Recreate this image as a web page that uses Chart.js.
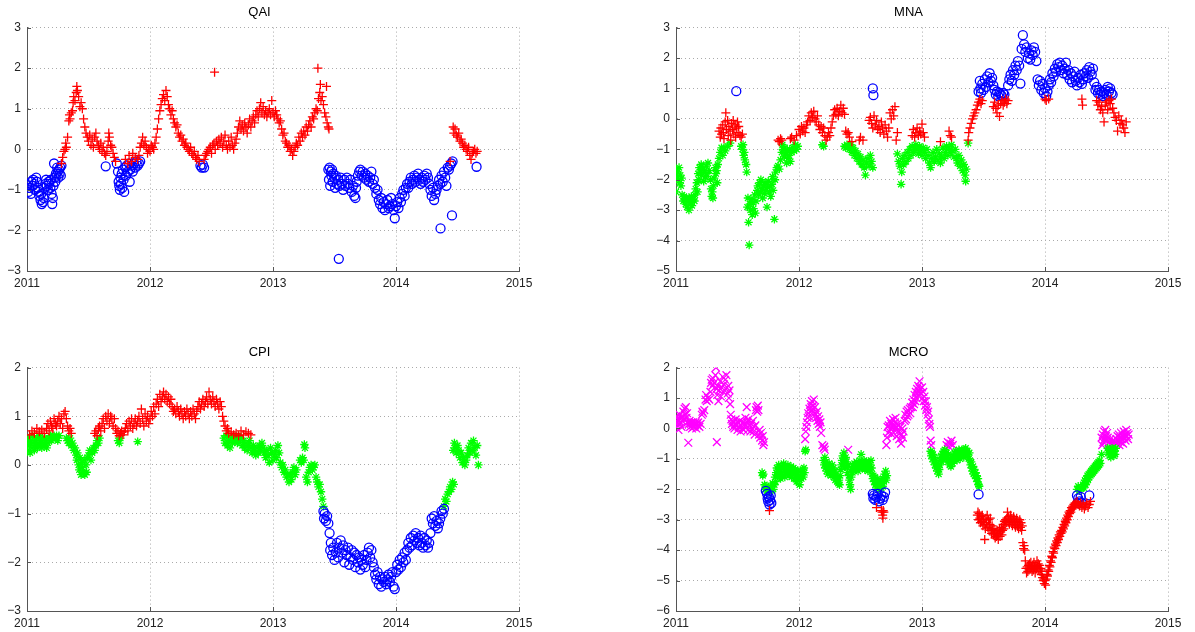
<!DOCTYPE html>
<html>
<head>
<meta charset="utf-8">
<script src="https://cdn.jsdelivr.net/npm/chart.js@4/dist/chart.umd.min.js"></script>
<style>
  body { margin: 0; background: #fff; width: 1195px; height: 632px; overflow: hidden; }
  canvas { position: absolute; }
</style>
</head>
<body>
<canvas id="qai" width="545" height="300" style="left:0;top:0"></canvas>
<canvas id="mna" width="545" height="300" style="left:649px;top:0"></canvas>
<canvas id="cpi" width="545" height="300" style="left:0;top:340px"></canvas>
<canvas id="mcro" width="545" height="300" style="left:649px;top:340px"></canvas>
<script>
// x = decimal year, y = value
const yearTicks = [2011, 2012, 2013, 2014, 2015];

// ---- QAI ----
const qaiPlus = [
  [2011.28,-0.35],[2011.29,-0.20],[2011.30,-0.05],[2011.31,0.00],[2011.315,0.15],[2011.32,0.05],[2011.33,0.30],[2011.34,0.70],[2011.345,0.85],[2011.35,0.75],[2011.36,0.90],[2011.37,0.95],[2011.375,1.15],[2011.38,1.30],[2011.39,1.20],[2011.40,1.40],[2011.405,1.55],[2011.41,1.45],[2011.42,1.30],[2011.43,1.05],[2011.44,1.15],[2011.45,1.00],[2011.46,0.75],[2011.47,0.55],[2011.48,0.40],[2011.49,0.30],[2011.50,0.20],[2011.51,0.35],[2011.52,0.10],[2011.53,0.25],[2011.54,0.05],[2011.55,0.30],[2011.56,0.40],[2011.57,0.20],[2011.58,0.10],[2011.59,0.00],[2011.60,0.15],[2011.61,-0.05],[2011.62,0.05],[2011.63,-0.10],[2011.64,-0.15],[2011.65,-0.05],[2011.66,0.20],[2011.665,0.40],[2011.67,0.30],[2011.68,0.10],[2011.69,0.05],[2011.70,-0.10],[2011.71,-0.20],[2011.72,-0.30],
  [2011.80,-0.25],[2011.82,-0.35],[2011.83,-0.15],[2011.85,-0.30],[2011.86,-0.10],[2011.88,-0.20],[2011.90,-0.25],[2011.91,-0.15],[2011.92,0.05],[2011.93,0.15],[2011.94,0.30],[2011.95,0.10],[2011.96,0.20],[2011.97,0.05],[2011.98,-0.10],[2011.99,0.00],[2012.00,-0.05],[2012.01,0.10],[2012.02,0.05],[2012.03,0.00],[2012.04,0.15],[2012.05,0.30],[2012.06,0.50],[2012.07,0.75],[2012.08,0.95],[2012.09,1.10],[2012.10,1.25],[2012.11,1.35],[2012.12,1.20],[2012.13,1.45],[2012.14,1.30],[2012.15,1.10],[2012.16,1.00],[2012.17,0.85],[2012.18,0.95],[2012.19,0.75],[2012.20,0.65],[2012.21,0.55],[2012.22,0.60],[2012.23,0.40],[2012.24,0.30],[2012.25,0.35],[2012.26,0.20],[2012.27,0.25],[2012.28,0.10],[2012.29,0.15],[2012.30,0.05],[2012.31,0.00],[2012.32,-0.05],[2012.33,0.05],[2012.34,-0.10],[2012.35,-0.15],[2012.36,-0.05],[2012.37,-0.20],[2012.38,-0.25],[2012.39,-0.15],[2012.40,-0.30],
  [2012.44,-0.25],[2012.45,-0.15],[2012.46,-0.10],[2012.47,-0.05],[2012.48,0.00],[2012.49,0.05],[2012.50,-0.10],[2012.51,0.10],[2012.52,0.15],[2012.525,1.90],[2012.53,0.00],[2012.54,0.20],[2012.55,0.10],[2012.56,0.25],[2012.57,0.15],[2012.58,0.30],[2012.59,0.05],[2012.60,0.20],[2012.61,0.35],[2012.62,0.10],[2012.63,0.00],[2012.64,0.20],[2012.65,0.05],[2012.66,0.30],[2012.67,0.10],[2012.68,0.00],[2012.69,0.15],[2012.70,0.25],[2012.71,0.40],[2012.72,0.55],[2012.73,0.70],[2012.74,0.50],[2012.75,0.60],[2012.76,0.45],[2012.77,0.65],[2012.78,0.55],[2012.79,0.40],[2012.80,0.60],[2012.81,0.75],[2012.82,0.55],[2012.83,0.70],[2012.84,0.80],[2012.85,0.65],[2012.86,0.85],[2012.87,0.95],[2012.88,0.80],[2012.89,1.00],[2012.90,1.15],[2012.91,0.90],[2012.92,1.05],[2012.93,0.85],[2012.94,0.95],[2012.95,0.80],[2012.96,0.90],[2012.97,1.00],[2012.98,0.85],[2012.99,1.20],
  [2013.00,0.90],[2013.01,0.80],[2013.02,0.95],[2013.03,0.85],[2013.04,0.75],[2013.05,0.65],[2013.06,0.70],[2013.07,0.50],[2013.08,0.35],[2013.09,0.40],[2013.10,0.20],[2013.11,0.15],[2013.12,0.05],[2013.13,0.10],[2013.14,-0.05],[2013.15,0.00],[2013.16,-0.15],[2013.17,-0.05],[2013.18,0.05],[2013.19,0.15],[2013.20,0.10],[2013.21,0.30],[2013.22,0.20],[2013.23,0.40],[2013.24,0.30],[2013.25,0.45],[2013.26,0.35],[2013.27,0.55],[2013.28,0.45],[2013.29,0.60],[2013.30,0.70],[2013.31,0.55],[2013.32,0.80],[2013.33,0.75],[2013.34,0.90],[2013.35,1.00],[2013.36,0.95],[2013.365,2.00],[2013.37,1.25],[2013.38,1.40],[2013.385,1.60],[2013.39,1.20],[2013.40,1.30],[2013.41,1.10],[2013.42,0.90],[2013.43,0.80],[2013.435,1.55],[2013.44,0.65],[2013.45,0.55],[2013.455,0.50],
  [2014.44,-0.30],[2014.465,0.55],[2014.47,0.40],[2014.48,0.50],[2014.49,0.35],[2014.50,0.30],[2014.51,0.40],[2014.52,0.20],[2014.53,0.25],[2014.54,0.15],[2014.55,0.05],[2014.56,0.10],[2014.57,0.00],[2014.58,-0.05],[2014.59,0.05],[2014.60,-0.15],[2014.61,-0.25],[2014.62,-0.10],[2014.63,-0.05],[2014.64,0.00],[2014.65,-0.10],[2014.66,-0.05]
];
const qaiCircle = [
  [2011.00,-0.88],[2011.01,-1.05],[2011.02,-0.95],[2011.03,-1.10],[2011.035,-0.80],[2011.045,-0.90],[2011.05,-0.75],[2011.06,-0.85],[2011.065,-1.00],[2011.075,-0.70],[2011.08,-0.80],[2011.09,-0.95],[2011.095,-1.05],[2011.10,-1.15],[2011.11,-1.25],[2011.115,-1.10],[2011.12,-1.35],[2011.13,-1.30],[2011.135,-1.20],[2011.14,-0.95],[2011.15,-0.85],[2011.155,-0.75],[2011.16,-0.90],[2011.17,-1.00],[2011.175,-0.80],[2011.18,-0.85],[2011.19,-0.95],[2011.195,-0.75],[2011.20,-1.10],[2011.205,-1.35],[2011.21,-1.20],[2011.215,-0.90],[2011.22,-0.35],[2011.225,-0.70],[2011.23,-0.80],[2011.235,-0.60],[2011.24,-0.65],[2011.245,-0.45],[2011.25,-0.55],[2011.255,-0.70],[2011.26,-0.50],[2011.265,-0.60],[2011.27,-0.45],[2011.275,-0.65],[2011.28,-0.40],
  [2011.64,-0.42],[2011.73,-0.35],[2011.74,-0.55],[2011.745,-0.80],[2011.75,-0.90],[2011.755,-1.00],[2011.76,-0.70],[2011.765,-0.85],[2011.77,-0.60],[2011.775,-0.95],[2011.78,-0.50],[2011.785,-0.75],[2011.79,-1.05],[2011.80,-0.45],[2011.805,-0.65],[2011.81,-0.40],[2011.82,-0.55],[2011.83,-0.35],[2011.835,-0.80],[2011.84,-0.50],[2011.85,-0.40],[2011.86,-0.55],[2011.87,-0.35],[2011.88,-0.45],[2011.89,-0.30],[2011.90,-0.40],[2011.91,-0.35],[2011.92,-0.30],
  [2012.41,-0.40],[2012.42,-0.45],[2012.43,-0.38],[2012.44,-0.45],
  [2013.45,-0.50],[2013.455,-0.75],[2013.46,-0.45],[2013.465,-0.90],[2013.47,-0.55],[2013.475,-0.65],[2013.48,-0.50],[2013.485,-0.80],[2013.49,-0.60],[2013.50,-0.70],[2013.505,-0.95],[2013.51,-0.65],[2013.52,-0.85],[2013.53,-0.75],[2013.535,-2.70],[2013.54,-0.90],[2013.55,-0.70],[2013.56,-0.85],[2013.57,-1.00],[2013.58,-0.75],[2013.59,-0.90],[2013.60,-0.70],[2013.61,-0.85],[2013.62,-0.95],[2013.63,-0.75],[2013.64,-1.05],[2013.65,-0.90],[2013.66,-1.15],[2013.67,-1.20],[2013.675,-0.95],[2013.68,-0.80],[2013.69,-0.65],[2013.70,-0.55],[2013.71,-0.50],[2013.72,-0.65],[2013.73,-0.55],[2013.74,-0.70],[2013.75,-0.60],[2013.76,-0.75],[2013.77,-0.65],[2013.78,-0.80],[2013.79,-0.70],[2013.80,-0.55],[2013.81,-0.85],[2013.82,-0.75],[2013.83,-0.95],[2013.84,-1.10],[2013.85,-1.00],[2013.86,-1.25],[2013.87,-1.35],[2013.88,-1.20],[2013.89,-1.45],[2013.90,-1.30],[2013.91,-1.50],[2013.92,-1.35],[2013.93,-1.25],[2013.94,-1.45],[2013.95,-1.40],[2013.96,-1.20],[2013.97,-1.35],[2013.98,-1.50],[2013.99,-1.70],
  [2014.00,-1.40],[2014.01,-1.30],[2014.02,-1.45],[2014.03,-1.20],[2014.04,-1.30],[2014.05,-1.10],[2014.06,-1.00],[2014.07,-1.15],[2014.08,-0.95],[2014.09,-0.85],[2014.10,-0.95],[2014.11,-0.80],[2014.12,-0.70],[2014.13,-0.85],[2014.14,-0.75],[2014.15,-0.65],[2014.16,-0.80],[2014.17,-0.70],[2014.18,-0.60],[2014.19,-0.75],[2014.20,-0.85],[2014.21,-0.70],[2014.22,-0.80],[2014.23,-0.65],[2014.24,-0.75],[2014.25,-0.60],[2014.26,-0.70],[2014.27,-0.85],[2014.28,-1.00],[2014.29,-1.15],[2014.30,-0.95],[2014.31,-1.25],[2014.32,-1.10],[2014.33,-1.00],[2014.34,-0.90],[2014.35,-0.75],[2014.36,-0.85],[2014.362,-1.95],[2014.37,-0.65],[2014.38,-0.80],[2014.39,-0.55],[2014.40,-0.70],[2014.41,-0.90],[2014.42,-0.45],[2014.43,-0.50],[2014.44,-0.40],[2014.45,-0.35],[2014.455,-1.63],[2014.46,-0.30],[2014.655,-0.43]
];

// ---- MNA ----
const mnaPlus = [
  [2011.35,-0.40],[2011.36,-0.60],[2011.365,-0.30],[2011.37,-0.50],[2011.38,-0.20],[2011.385,-0.45],[2011.39,-0.65],[2011.40,-0.10],[2011.405,0.20],[2011.41,-0.35],[2011.42,-0.05],[2011.425,-0.55],[2011.43,-0.25],[2011.44,-0.40],[2011.445,-0.70],[2011.45,-0.15],[2011.46,-0.35],[2011.465,-0.05],[2011.47,-0.50],[2011.48,-0.20],[2011.485,-0.60],[2011.49,-0.30],[2011.50,-0.10],[2011.505,-0.45],[2011.51,-0.25],[2011.52,-0.55],[2011.53,-0.60],[2011.54,-0.50],
  [2011.83,-0.70],[2011.84,-0.75],[2011.85,-0.65],[2011.86,-0.70],[2011.93,-0.65],[2011.94,-0.60],[2011.96,-0.70],[2011.98,-0.55],[2012.00,-0.35],[2012.01,-0.50],[2012.02,-0.25],[2012.03,-0.40],[2012.04,-0.30],[2012.05,-0.45],[2012.06,-0.20],[2012.07,-0.10],[2012.08,0.10],[2012.09,-0.05],[2012.10,0.20],[2012.11,0.05],[2012.12,0.25],[2012.13,0.00],[2012.14,-0.10],[2012.15,0.10],[2012.16,-0.20],[2012.17,-0.35],[2012.18,-0.25],[2012.19,-0.45],[2012.20,-0.30],[2012.21,-0.55],[2012.22,-0.70],[2012.23,-0.60],[2012.24,-0.45],[2012.25,-0.55],[2012.26,-0.30],[2012.27,-0.10],[2012.28,0.10],[2012.29,0.30],[2012.30,0.15],[2012.31,0.35],[2012.32,0.10],[2012.33,0.25],[2012.34,0.45],[2012.35,0.20],[2012.36,0.35],[2012.37,0.15],[2012.38,-0.40],[2012.39,-0.50],[2012.40,-0.45],[2012.41,-0.60],[2012.43,-0.75],[2012.49,-0.70],[2012.50,-0.60],[2012.52,-0.70],
  [2012.57,-0.05],[2012.58,0.05],[2012.59,-0.15],[2012.60,-0.30],[2012.61,0.10],[2012.62,-0.20],[2012.63,-0.05],[2012.64,-0.35],[2012.65,-0.25],[2012.66,-0.45],[2012.67,-0.10],[2012.68,-0.30],[2012.69,-0.50],[2012.70,-0.20],[2012.71,-0.40],[2012.72,-0.60],[2012.73,-0.30],[2012.74,0.20],[2012.75,0.00],[2012.76,0.30],[2012.77,0.10],[2012.78,0.40],[2012.79,-0.70],[2012.80,-0.45],
  [2012.92,-0.55],[2012.93,-0.35],[2012.94,-0.60],[2012.95,-0.45],[2012.96,-0.30],[2012.97,-0.55],[2012.98,-0.40],[2012.99,-0.50],[2013.00,-0.17],[2013.01,-0.45],[2013.02,-0.60],[2013.15,-0.75],[2013.22,-0.40],[2013.23,-0.55],[2013.24,-0.60],
  [2013.375,-0.70],[2013.38,-0.45],[2013.39,-0.30],[2013.40,-0.15],[2013.41,0.00],[2013.42,0.10],[2013.43,0.20],[2013.44,0.30],[2013.45,0.45],[2013.46,0.55],[2013.47,0.65],[2013.48,0.50],[2013.49,0.60],
  [2013.58,0.40],[2013.59,0.55],[2013.60,0.35],[2013.61,0.20],[2013.62,0.45],[2013.63,0.08],[2013.64,0.50],[2013.65,0.60],[2013.66,0.45],[2013.67,0.55],[2013.68,0.65],[2013.69,0.50],[2013.70,0.60],
  [2014.00,0.65],[2014.01,0.60],[2014.03,0.65],[2014.30,0.65],[2014.305,0.45],
  [2014.42,0.60],[2014.43,0.45],[2014.44,0.55],[2014.45,0.30],[2014.46,0.40],[2014.47,0.20],[2014.48,-0.10],[2014.49,0.45],[2014.50,0.55],[2014.51,0.30],[2014.52,0.60],[2014.53,0.50],[2014.54,0.65],[2014.55,0.35],[2014.56,0.20],[2014.57,0.05],[2014.58,-0.05],[2014.59,-0.40],[2014.60,0.10],[2014.61,-0.15],[2014.62,-0.05],[2014.63,-0.20],[2014.64,-0.30],[2014.65,-0.45],[2014.66,-0.10]
];
const mnaCircle = [
  [2011.49,0.91],[2012.60,1.00],[2012.605,0.78],
  [2013.46,0.90],[2013.47,1.25],[2013.475,1.00],[2013.48,0.85],[2013.49,1.15],[2013.50,0.95],[2013.51,1.30],[2013.52,1.05],[2013.53,1.40],[2013.54,1.20],[2013.55,1.50],[2013.56,1.25],[2013.57,1.35],[2013.58,1.10],[2013.59,0.95],[2013.60,0.80],[2013.61,0.90],[2013.62,0.75],[2013.63,0.85],[2013.64,0.80],[2013.65,0.75],[2013.66,0.85],[2013.67,0.80],
  [2013.70,1.10],[2013.71,1.30],[2013.72,1.45],[2013.73,1.25],[2013.74,1.60],[2013.75,1.45],[2013.76,1.75],[2013.77,1.60],[2013.78,1.90],[2013.79,1.75],[2013.80,1.16],[2013.81,2.30],[2013.82,2.75],[2013.83,2.45],[2013.84,2.20],[2013.85,2.35],[2013.86,2.00],[2013.87,2.15],[2013.88,1.95],[2013.89,2.25],[2013.90,2.10],[2013.91,2.35],[2013.92,2.20],[2013.93,1.90],
  [2013.94,1.30],[2013.95,1.10],[2013.96,1.25],[2013.97,0.95],[2013.98,1.15],[2013.99,0.85],[2014.00,1.00],[2014.01,0.75],[2014.02,0.90],[2014.03,1.10],[2014.04,1.30],[2014.05,1.20],[2014.06,1.50],[2014.07,1.40],[2014.08,1.65],[2014.09,1.55],[2014.10,1.80],[2014.11,1.70],[2014.12,1.85],[2014.13,1.60],[2014.14,1.75],[2014.15,1.50],[2014.16,1.65],[2014.17,1.85],[2014.18,1.45],[2014.19,1.60],[2014.20,1.30],[2014.21,1.50],[2014.22,1.20],[2014.23,1.40],[2014.24,1.55],[2014.25,1.25],[2014.26,1.10],[2014.27,1.35],[2014.28,1.20],[2014.29,1.45],[2014.30,1.15],[2014.31,1.30],[2014.32,1.50],[2014.33,1.40],[2014.34,1.60],[2014.35,1.35],[2014.36,1.70],[2014.37,1.55],[2014.38,1.45],[2014.39,1.65],[2014.40,1.20],[2014.41,0.95],[2014.42,1.05],[2014.43,0.85],[2014.44,0.95],[2014.45,0.80],[2014.46,0.90],[2014.47,0.75],[2014.48,0.85],[2014.49,0.95],[2014.50,0.80],[2014.51,1.05],[2014.52,0.90],[2014.53,1.00],[2014.54,0.85],[2014.55,0.80]
];
const mnaStar = [
  [2011.00,-2.40],[2011.005,-1.65],[2011.01,-1.90],[2011.015,-1.75],[2011.02,-2.00],[2011.025,-1.60],[2011.03,-2.10],[2011.035,-1.85],[2011.04,-2.20],[2011.045,-1.95],[2011.05,-2.50],[2011.06,-2.70],[2011.065,-2.55],[2011.07,-2.65],[2011.08,-2.80],[2011.085,-2.60],[2011.09,-2.90],[2011.10,-2.70],[2011.105,-3.00],[2011.11,-2.60],[2011.12,-2.75],[2011.125,-2.55],[2011.13,-2.85],[2011.14,-2.65],[2011.15,-2.70],[2011.155,-2.50],[2011.16,-2.30],[2011.17,-2.10],[2011.175,-2.40],[2011.18,-1.80],[2011.185,-2.00],[2011.19,-1.60],[2011.20,-1.75],[2011.205,-1.50],[2011.21,-1.85],[2011.22,-1.65],[2011.225,-2.05],[2011.23,-1.70],[2011.24,-1.90],[2011.245,-1.55],[2011.25,-1.80],[2011.26,-1.45],[2011.27,-1.70],[2011.28,-2.00],[2011.285,-2.30],[2011.29,-2.55],[2011.295,-2.40],[2011.30,-2.60],[2011.305,-2.20],[2011.31,-1.95],[2011.32,-1.60],[2011.325,-1.80],[2011.33,-1.70],[2011.335,-2.10],[2011.34,-1.50],[2011.35,-1.30],[2011.36,-1.10],[2011.37,-0.95],[2011.38,-1.20],[2011.39,-0.95],[2011.40,-1.05],[2011.42,-0.90],[2011.44,-0.80],
  [2011.53,-0.90],[2011.54,-1.00],[2011.545,-0.85],[2011.55,-1.20],[2011.555,-1.10],[2011.56,-1.35],[2011.57,-1.50],[2011.575,-1.75],[2011.58,-2.90],[2011.585,-2.60],[2011.59,-3.40],[2011.595,-4.15],[2011.60,-2.80],[2011.605,-3.00],[2011.61,-2.65],[2011.62,-3.15],[2011.625,-2.75],[2011.63,-2.95],[2011.64,-2.50],[2011.645,-3.10],[2011.65,-2.70],[2011.66,-2.35],[2011.665,-2.20],[2011.67,-2.50],[2011.68,-2.10],[2011.685,-2.40],[2011.69,-2.00],[2011.70,-2.30],[2011.705,-2.60],[2011.71,-2.20],[2011.72,-2.45],[2011.725,-2.10],[2011.73,-2.35],[2011.74,-2.90],[2011.745,-2.25],[2011.75,-2.05],[2011.76,-2.40],[2011.765,-2.20],[2011.77,-2.55],[2011.78,-2.15],[2011.785,-1.90],[2011.79,-2.35],[2011.80,-3.30],[2011.805,-2.00],[2011.81,-1.75],[2011.82,-1.60],[2011.83,-1.55],[2011.84,-1.65],[2011.85,-1.35],[2011.86,-1.10],[2011.865,-0.85],[2011.87,-1.00],[2011.88,-1.25],[2011.885,-0.95],[2011.89,-1.15],[2011.90,-1.45],[2011.905,-1.05],[2011.91,-1.30],[2011.92,-1.20],[2011.925,-1.00],[2011.93,-1.40],[2011.94,-1.10],[2011.95,-0.95],[2011.96,-1.05],[2011.97,-0.85],[2011.98,-1.00],[2011.99,-0.90],
  [2012.19,-0.85],[2012.20,-0.90],[2012.37,-0.90],[2012.38,-0.95],[2012.39,-0.85],[2012.40,-0.90],[2012.41,-1.00],[2012.42,-0.85],[2012.43,-1.10],[2012.44,-0.95],[2012.45,-1.20],[2012.46,-1.05],[2012.47,-1.30],[2012.48,-1.15],[2012.49,-1.40],[2012.50,-1.25],[2012.51,-1.50],[2012.52,-1.35],[2012.53,-1.60],[2012.54,-1.85],[2012.55,-1.45],[2012.56,-1.30],[2012.57,-1.55],[2012.58,-1.20],[2012.59,-1.40],[2012.60,-1.60],
  [2012.80,-1.15],[2012.81,-1.40],[2012.82,-1.55],[2012.83,-2.15],[2012.835,-1.75],[2012.84,-1.30],[2012.85,-1.50],[2012.86,-1.20],[2012.87,-1.40],[2012.88,-1.10],[2012.89,-1.30],[2012.90,-1.00],[2012.91,-1.20],[2012.92,-0.90],[2012.93,-1.10],[2012.94,-0.95],[2012.95,-0.85],
  [2012.96,-1.00],[2012.97,-1.15],[2012.98,-0.90],[2012.99,-1.05],[2013.00,-1.20],[2013.01,-0.95],[2013.02,-1.10],[2013.03,-1.30],[2013.04,-1.00],[2013.05,-1.20],[2013.06,-1.45],[2013.07,-1.60],[2013.08,-1.30],[2013.09,-1.10],[2013.10,-1.40],[2013.11,-1.25],[2013.12,-1.00],[2013.13,-1.35],[2013.14,-1.15],[2013.15,-1.45],[2013.16,-1.25],[2013.17,-0.95],[2013.18,-1.30],[2013.19,-1.10],[2013.20,-0.90],[2013.21,-1.20],[2013.22,-0.95],[2013.23,-1.10],[2013.24,-0.85],[2013.25,-1.05],[2013.26,-1.25],[2013.27,-1.00],[2013.28,-1.30],[2013.29,-1.45],[2013.30,-1.20],[2013.31,-1.55],[2013.32,-1.35],[2013.33,-1.70],[2013.34,-1.50],[2013.35,-1.85],[2013.355,-2.05],[2013.36,-1.65],[2013.375,-0.80]
];

// ---- CPI ----
const cpiPlus = [
  [2011.02,0.62],[2011.04,0.70],[2011.06,0.65],[2011.08,0.75],[2011.10,0.68],[2011.12,0.72],[2011.14,0.65],[2011.16,0.75],[2011.17,0.85],[2011.18,0.70],[2011.19,0.90],[2011.20,0.80],[2011.21,0.75],[2011.22,0.95],[2011.23,0.85],[2011.24,0.80],[2011.25,0.90],[2011.26,1.00],[2011.27,0.85],[2011.28,0.95],[2011.29,0.75],[2011.30,1.05],[2011.31,1.10],[2011.32,0.95],[2011.33,0.80],[2011.34,0.70],[2011.35,0.75],[2011.36,0.65],
  [2011.55,0.65],[2011.56,0.70],[2011.57,0.60],[2011.58,0.75],[2011.59,0.80],[2011.60,0.70],[2011.61,0.85],[2011.62,0.95],[2011.63,0.75],[2011.64,1.00],[2011.65,0.90],[2011.66,1.05],[2011.67,0.85],[2011.68,1.00],[2011.69,0.95],[2011.70,0.80],[2011.71,0.95],[2011.72,0.75],[2011.73,0.65],[2011.74,0.70],[2011.75,0.60],[2011.76,0.65],[2011.77,0.70],[2011.78,0.62],[2011.79,0.68],[2011.80,0.75],[2011.81,0.85],[2011.82,0.70],[2011.83,0.90],[2011.84,0.80],[2011.85,0.95],[2011.86,0.75],[2011.87,0.85],[2011.88,0.95],[2011.89,0.80],[2011.90,0.90],[2011.91,1.00],[2011.92,0.85],[2011.93,1.15],[2011.94,0.95],[2011.95,0.80],[2011.96,1.05],[2011.97,0.90],[2011.98,1.00],[2011.99,0.85],
  [2012.00,0.95],[2012.01,1.10],[2012.02,1.00],[2012.03,1.20],[2012.04,1.05],[2012.05,1.25],[2012.06,1.35],[2012.07,1.20],[2012.08,1.45],[2012.09,1.30],[2012.10,1.40],[2012.11,1.50],[2012.12,1.35],[2012.13,1.45],[2012.14,1.30],[2012.15,1.40],[2012.16,1.25],[2012.17,1.35],[2012.18,1.20],[2012.19,1.10],[2012.20,1.15],[2012.21,1.05],[2012.22,1.20],[2012.23,1.10],[2012.24,1.00],[2012.25,1.15],[2012.26,1.05],[2012.27,0.95],[2012.28,1.10],[2012.29,1.00],[2012.30,1.15],[2012.31,1.05],[2012.32,0.95],[2012.33,1.10],[2012.34,1.00],[2012.35,1.15],[2012.36,1.05],[2012.37,0.95],[2012.38,1.10],[2012.39,1.20],[2012.40,1.30],[2012.41,1.15],[2012.42,1.25],[2012.43,1.35],[2012.44,1.20],[2012.45,1.30],[2012.46,1.40],[2012.47,1.25],[2012.48,1.50],[2012.49,1.35],[2012.50,1.25],[2012.51,1.40],[2012.52,1.30],[2012.53,1.20],[2012.54,1.35],[2012.55,1.25],[2012.56,1.15],[2012.57,1.30],[2012.58,1.20],[2012.59,1.00],[2012.60,0.90],[2012.61,0.80],[2012.62,0.70],[2012.63,0.75],[2012.64,0.65],[2012.66,0.68],[2012.68,0.62],[2012.70,0.65],[2012.72,0.60],[2012.74,0.70],[2012.76,0.62],[2012.78,0.68],[2012.80,0.65],[2012.82,0.62]
];
const cpiCircle = [
  [2013.41,-0.95],[2013.415,-1.10],[2013.42,-1.00],[2013.43,-1.15],[2013.44,-1.05],[2013.45,-1.20],[2013.46,-1.40],[2013.465,-1.75],[2013.47,-1.60],[2013.48,-1.85],[2013.49,-1.70],[2013.50,-1.95],[2013.51,-1.80],[2013.52,-1.60],[2013.53,-1.90],[2013.54,-1.70],[2013.55,-1.55],[2013.56,-1.80],[2013.57,-1.65],[2013.58,-2.00],[2013.59,-1.75],[2013.60,-1.85],[2013.61,-1.70],[2013.62,-2.05],[2013.63,-1.90],[2013.64,-1.75],[2013.65,-1.95],[2013.66,-1.80],[2013.67,-2.10],[2013.68,-1.85],[2013.69,-2.00],[2013.70,-1.90],[2013.71,-2.15],[2013.72,-1.95],[2013.73,-2.05],[2013.74,-1.85],[2013.75,-2.10],[2013.76,-1.95],[2013.77,-1.80],[2013.78,-1.70],[2013.79,-1.90],[2013.80,-1.75],[2013.81,-2.00],[2013.82,-2.10],[2013.83,-2.25],[2013.84,-2.35],[2013.85,-2.20],[2013.86,-2.45],[2013.87,-2.30],[2013.88,-2.50],[2013.89,-2.35],[2013.90,-2.40],[2013.91,-2.30],[2013.92,-2.45],[2013.93,-2.35],[2013.94,-2.25],[2013.95,-2.40],[2013.96,-2.30],[2013.97,-2.20],[2013.98,-2.50],[2013.99,-2.55],
  [2014.00,-2.20],[2014.01,-2.05],[2014.02,-2.15],[2014.03,-1.95],[2014.04,-2.10],[2014.05,-1.90],[2014.06,-2.00],[2014.07,-1.80],[2014.08,-1.95],[2014.09,-1.75],[2014.10,-1.60],[2014.11,-1.70],[2014.12,-1.50],[2014.13,-1.65],[2014.14,-1.45],[2014.15,-1.55],[2014.16,-1.40],[2014.17,-1.60],[2014.18,-1.50],[2014.19,-1.65],[2014.20,-1.45],[2014.21,-1.60],[2014.22,-1.70],[2014.23,-1.50],[2014.24,-1.65],[2014.25,-1.55],[2014.26,-1.70],[2014.27,-1.60],[2014.28,-1.40],[2014.29,-1.10],[2014.30,-1.20],[2014.31,-1.05],[2014.32,-1.25],[2014.33,-1.15],[2014.34,-1.30],[2014.35,-1.20],[2014.36,-1.10],[2014.37,-0.95],[2014.38,-1.00],[2014.39,-0.90]
];
const cpiStar = [
  [2011.00,0.45],[2011.005,0.30],[2011.01,0.55],[2011.02,0.40],[2011.025,0.25],[2011.03,0.50],[2011.04,0.35],[2011.045,0.60],[2011.05,0.45],[2011.06,0.30],[2011.065,0.50],[2011.07,0.40],[2011.08,0.55],[2011.085,0.35],[2011.09,0.45],[2011.10,0.60],[2011.105,0.40],[2011.11,0.50],[2011.12,0.35],[2011.125,0.55],[2011.13,0.45],[2011.14,0.40],[2011.145,0.55],[2011.15,0.50],[2011.16,0.35],[2011.17,0.45],[2011.18,0.55],[2011.19,0.60],[2011.20,0.50],[2011.21,0.55],[2011.22,0.60],[2011.23,0.55],[2011.24,0.60],[2011.25,0.50],[2011.26,0.60],
  [2011.32,0.55],[2011.33,0.50],[2011.34,0.45],[2011.35,0.55],[2011.36,0.40],[2011.37,0.45],[2011.38,0.30],[2011.39,0.35],[2011.40,0.20],[2011.405,0.10],[2011.41,0.25],[2011.42,0.00],[2011.425,-0.10],[2011.43,0.15],[2011.44,-0.20],[2011.445,0.05],[2011.45,-0.05],[2011.46,-0.15],[2011.465,0.10],[2011.47,-0.20],[2011.48,0.00],[2011.485,-0.15],[2011.49,0.15],[2011.50,0.20],[2011.51,0.30],[2011.52,0.10],[2011.53,0.25],[2011.54,0.35],[2011.55,0.30],[2011.56,0.40],[2011.57,0.50],[2011.58,0.45],[2011.59,0.55],[2011.74,0.50],[2011.75,0.45],[2011.76,0.55],[2011.90,0.48],
  [2012.60,0.55],[2012.61,0.45],[2012.62,0.60],[2012.63,0.40],[2012.64,0.50],[2012.65,0.35],[2012.66,0.55],[2012.67,0.45],[2012.68,0.60],[2012.69,0.50],[2012.70,0.55],[2012.71,0.45],[2012.72,0.60],[2012.73,0.50],[2012.74,0.55],[2012.75,0.40],[2012.76,0.50],[2012.77,0.35],[2012.78,0.45],[2012.79,0.30],[2012.80,0.40],[2012.81,0.50],[2012.82,0.35],[2012.83,0.25],[2012.84,0.40],[2012.85,0.30],[2012.86,0.20],[2012.87,0.35],[2012.88,0.25],[2012.89,0.40],[2012.90,0.30],[2012.91,0.45],[2012.92,0.35],[2012.93,0.25],[2012.94,0.15],[2012.95,0.30],[2012.96,0.20],[2012.97,0.05],[2012.98,0.35],[2012.99,0.25],
  [2013.00,0.10],[2013.01,0.20],[2013.02,0.30],[2013.03,0.15],[2013.04,0.40],[2013.05,0.25],[2013.06,0.05],[2013.07,-0.05],[2013.08,0.00],[2013.09,-0.15],[2013.10,-0.10],[2013.11,-0.25],[2013.12,-0.20],[2013.13,-0.35],[2013.14,-0.20],[2013.15,-0.30],[2013.16,-0.15],[2013.17,-0.05],[2013.18,-0.20],[2013.19,-0.10],[2013.22,0.10],[2013.23,0.05],[2013.24,0.15],[2013.25,0.10],[2013.255,0.42],[2013.26,0.35],[2013.27,-0.25],[2013.28,-0.35],[2013.29,-0.15],[2013.30,-0.05],[2013.31,0.00],[2013.32,-0.10],[2013.33,-0.05],[2013.34,0.00],[2013.35,-0.25],[2013.36,-0.35],[2013.37,-0.45],[2013.38,-0.40],[2013.39,-0.55],[2013.40,-0.70],[2013.41,-0.85],
  [2014.39,-0.85],[2014.40,-0.70],[2014.41,-0.75],[2014.42,-0.60],[2014.43,-0.55],[2014.44,-0.45],[2014.45,-0.50],[2014.46,-0.35],[2014.47,-0.40],[2014.465,0.30],[2014.475,0.45],[2014.48,0.35],[2014.49,0.25],[2014.50,0.40],[2014.51,0.30],[2014.52,0.15],[2014.53,0.25],[2014.54,0.05],[2014.55,0.15],[2014.56,0.00],[2014.57,0.10],[2014.58,0.20],[2014.59,0.35],[2014.60,0.25],[2014.61,0.45],[2014.62,0.30],[2014.63,0.50],[2014.64,0.35],[2014.65,0.20],[2014.66,0.40],[2014.67,0.00]
];

// ---- MCRO ----
const mcroPlus = [
  [2011.76,-2.70],[2012.63,-2.60],[2012.67,-2.70],[2012.675,-2.75],[2012.68,-2.85],[2012.685,-2.70],[2012.69,-2.75],[2012.682,-2.95],
  [2013.45,-2.85],[2013.455,-2.75],[2013.46,-3.00],[2013.465,-2.80],[2013.47,-2.95],[2013.475,-3.10],[2013.48,-2.90],[2013.485,-3.05],[2013.49,-2.85],[2013.495,-3.20],[2013.50,-3.00],[2013.505,-3.15],[2013.51,-3.65],[2013.515,-3.30],[2013.52,-2.95],[2013.525,-3.10],[2013.53,-2.85],[2013.535,-3.25],[2013.54,-3.00],[2013.545,-3.35],[2013.55,-3.15],[2013.555,-2.95],[2013.56,-3.30],[2013.565,-3.45],[2013.57,-3.20],[2013.575,-3.35],[2013.58,-3.50],[2013.585,-3.30],[2013.59,-3.45],[2013.595,-3.60],[2013.60,-3.40],[2013.605,-3.55],[2013.61,-3.35],[2013.615,-3.50],[2013.62,-3.65],[2013.625,-3.45],[2013.63,-3.30],[2013.635,-3.55],[2013.64,-3.40],[2013.645,-3.25],[2013.65,-3.50],[2013.655,-3.35],[2013.66,-3.15],[2013.665,-3.30],[2013.67,-3.05],[2013.675,-3.20],[2013.68,-3.00],[2013.685,-3.10],[2013.69,-2.95],[2013.695,-2.75],[2013.70,-3.05],[2013.705,-2.90],[2013.71,-3.15],[2013.715,-3.00],[2013.72,-2.85],[2013.725,-3.10],[2013.73,-2.95],[2013.735,-3.20],[2013.74,-3.05],[2013.745,-2.90],[2013.75,-3.15],[2013.755,-3.00],[2013.76,-3.25],[2013.765,-3.10],[2013.77,-2.95],[2013.775,-3.20],[2013.78,-3.05],[2013.785,-3.30],[2013.79,-3.15],[2013.795,-3.00],[2013.80,-3.25],[2013.805,-3.10],[2013.81,-3.35],[2013.815,-3.20],
  [2013.82,-3.75],[2013.825,-3.95],[2013.83,-3.85],[2013.835,-4.00],[2013.84,-4.35],[2013.845,-4.60],[2013.85,-4.75],[2013.855,-4.55],[2013.86,-4.70],[2013.865,-4.50],[2013.87,-4.65],[2013.875,-4.45],[2013.88,-4.60],[2013.885,-4.40],[2013.89,-4.55],[2013.895,-4.70],[2013.90,-4.50],[2013.905,-4.65],[2013.91,-4.40],[2013.915,-4.55],[2013.92,-4.75],[2013.925,-4.50],[2013.93,-4.60],[2013.935,-4.35],[2013.94,-4.55],[2013.945,-4.45],[2013.95,-4.65],[2013.955,-4.50],[2013.96,-4.70],[2013.965,-4.60],[2013.97,-4.80],[2013.975,-4.70],[2013.98,-4.90],[2013.985,-5.00],[2013.99,-4.95],[2013.995,-5.10],
  [2014.00,-5.00],[2014.005,-5.15],[2014.01,-4.95],[2014.015,-4.80],[2014.02,-4.85],[2014.025,-4.65],[2014.03,-4.70],[2014.035,-4.50],[2014.04,-4.55],[2014.045,-4.35],[2014.05,-4.40],[2014.055,-4.20],[2014.06,-4.25],[2014.065,-4.05],[2014.07,-4.10],[2014.075,-3.90],[2014.08,-3.95],[2014.085,-3.80],[2014.09,-3.85],[2014.095,-3.70],[2014.10,-3.75],[2014.105,-3.60],[2014.11,-3.65],[2014.115,-3.50],[2014.12,-3.55],[2014.125,-3.40],[2014.13,-3.45],[2014.135,-3.35],[2014.14,-3.40],[2014.145,-3.25],[2014.15,-3.30],[2014.155,-3.15],[2014.16,-3.20],[2014.165,-3.05],[2014.17,-3.10],[2014.175,-2.95],[2014.18,-3.00],[2014.185,-2.85],[2014.19,-2.90],[2014.195,-2.75],[2014.20,-2.80],[2014.205,-2.70],[2014.21,-2.75],[2014.215,-2.60],[2014.22,-2.65],[2014.225,-2.55],[2014.23,-2.60],[2014.235,-2.50],[2014.24,-2.55],[2014.245,-2.45],[2014.25,-2.50],[2014.26,-2.40],[2014.27,-2.50],[2014.28,-2.55],[2014.29,-2.45],[2014.30,-2.60],[2014.31,-2.50],[2014.32,-2.65],[2014.33,-2.55],[2014.34,-2.45],[2014.35,-2.60],[2014.36,-2.50],[2014.37,-2.40]
];
const mcroCircle = [
  [2011.73,-2.05],[2011.74,-2.15],[2011.745,-2.30],[2011.75,-2.40],[2011.755,-2.25],[2011.76,-2.50],[2011.765,-2.35],[2011.77,-2.20],[2011.775,-2.45],
  [2012.60,-2.15],[2012.605,-2.30],[2012.61,-2.20],[2012.62,-2.35],[2012.63,-2.25],[2012.64,-2.15],[2012.65,-2.40],[2012.66,-2.30],[2012.67,-2.20],[2012.68,-2.35],[2012.69,-2.25],[2012.70,-2.10],
  [2013.46,-2.17],
  [2014.26,-2.20],[2014.265,-2.45],[2014.27,-2.30],[2014.28,-2.40],[2014.29,-2.25],[2014.30,-2.45],[2014.36,-2.20]
];
const mcroStar = [
  [2011.70,-1.45],[2011.705,-1.55],[2011.71,-1.50],[2011.72,-1.85],[2011.725,-2.00],[2011.73,-1.90],[2011.74,-2.05],[2011.75,-1.95],[2011.76,-2.10],[2011.77,-1.90],[2011.78,-2.05],[2011.785,-1.80],[2011.79,-2.00],[2011.80,-1.85],[2011.805,-1.60],[2011.81,-1.75],[2011.815,-1.45],[2011.82,-1.30],[2011.825,-1.55],[2011.83,-1.40],[2011.835,-1.20],[2011.84,-1.50],[2011.845,-1.35],[2011.85,-1.65],[2011.855,-1.25],[2011.86,-1.45],[2011.865,-1.55],[2011.87,-1.30],[2011.875,-1.15],[2011.88,-1.40],[2011.885,-1.60],[2011.89,-1.25],[2011.895,-1.45],[2011.90,-1.35],[2011.905,-1.50],[2011.91,-1.20],[2011.915,-1.40],[2011.92,-1.55],[2011.925,-1.30],[2011.93,-1.45],[2011.935,-1.25],[2011.94,-1.60],[2011.945,-1.40],[2011.95,-1.50],[2011.955,-1.30],[2011.96,-1.65],[2011.965,-1.45],[2011.97,-1.35],[2011.975,-1.55],[2011.98,-1.75],[2011.985,-1.60],[2011.99,-1.40],[2011.995,-1.55],[2012.00,-1.70],[2012.005,-1.85],[2012.01,-1.55],[2012.015,-1.40],[2012.02,-1.65],[2012.025,-1.50],[2012.03,-1.35],[2012.035,-1.60],[2012.04,-1.30],[2012.045,-1.45],[2012.05,-0.75],[2012.055,-0.70],
  [2012.20,-1.05],[2012.205,-1.20],[2012.21,-0.95],[2012.215,-1.30],[2012.22,-1.10],[2012.225,-1.40],[2012.23,-1.20],[2012.235,-1.50],[2012.24,-1.30],[2012.245,-1.15],[2012.25,-1.45],[2012.255,-1.25],[2012.26,-1.55],[2012.265,-1.35],[2012.27,-1.20],[2012.275,-1.50],[2012.28,-1.30],[2012.285,-1.60],[2012.29,-1.40],[2012.295,-1.70],[2012.30,-1.50],[2012.305,-1.65],[2012.31,-1.75],[2012.315,-1.60],[2012.32,-1.80],[2012.325,-1.70],[2012.33,-1.85],[2012.335,-1.55],[2012.34,-1.35],[2012.345,-1.20],[2012.35,-1.05],[2012.355,-0.90],[2012.36,-1.15],[2012.365,-0.80],[2012.37,-1.00],[2012.375,-1.25],[2012.38,-0.95],[2012.385,-1.10],[2012.39,-1.30],[2012.395,-1.45],[2012.40,-1.20],[2012.405,-1.55],[2012.41,-1.70],[2012.415,-1.85],[2012.42,-2.00],[2012.425,-1.60],[2012.43,-1.35],[2012.435,-1.45],[2012.44,-1.25],[2012.445,-1.40],[2012.45,-1.15],[2012.455,-1.30],[2012.46,-1.20],[2012.465,-1.35],[2012.47,-1.10],[2012.475,-1.25],[2012.48,-1.40],[2012.485,-1.15],[2012.49,-1.30],[2012.495,-1.05],[2012.50,-1.20],[2012.505,-0.85],[2012.51,-1.10],[2012.515,-1.30],[2012.52,-1.15],[2012.525,-1.25],[2012.53,-1.05],[2012.535,-1.35],[2012.54,-1.20],[2012.545,-1.10],[2012.55,-1.30],[2012.555,-1.15],[2012.56,-1.40],[2012.565,-1.25],[2012.57,-1.10],[2012.575,-1.35],[2012.58,-1.20],[2012.585,-1.05],[2012.59,-1.30],[2012.595,-1.50],[2012.60,-1.65],[2012.605,-1.55],[2012.61,-1.75],[2012.615,-1.60],[2012.62,-1.85],[2012.625,-1.70],[2012.63,-1.95],[2012.635,-1.80],[2012.64,-1.65],[2012.645,-1.90],[2012.65,-1.75],[2012.655,-2.00],[2012.66,-1.85],[2012.665,-1.70],[2012.67,-1.95],[2012.675,-1.80],[2012.68,-1.90],[2012.685,-1.65],[2012.69,-1.75],[2012.695,-1.50],[2012.70,-1.60],[2012.705,-1.40],[2012.71,-1.70],[2012.715,-1.55],
  [2013.07,-0.75],[2013.075,-0.90],[2013.08,-0.80],[2013.085,-1.00],[2013.09,-0.85],[2013.095,-1.10],[2013.10,-0.95],[2013.105,-1.20],[2013.11,-1.05],[2013.115,-1.30],[2013.12,-1.15],[2013.125,-1.40],[2013.13,-1.25],[2013.135,-1.50],[2013.14,-1.35],[2013.145,-1.20],[2013.15,-1.05],[2013.155,-0.90],[2013.16,-1.10],[2013.165,-0.85],[2013.17,-1.00],[2013.175,-0.75],[2013.18,-0.90],[2013.185,-0.70],[2013.19,-0.85],[2013.195,-1.00],[2013.20,-0.80],[2013.205,-0.95],[2013.21,-1.10],[2013.215,-0.85],[2013.22,-1.00],[2013.225,-1.20],[2013.23,-1.05],[2013.235,-1.25],[2013.24,-1.10],[2013.245,-0.95],[2013.25,-1.15],[2013.255,-0.90],[2013.26,-1.05],[2013.265,-0.80],[2013.27,-0.95],[2013.275,-0.75],[2013.28,-0.90],[2013.285,-1.05],[2013.29,-0.80],[2013.295,-0.95],[2013.30,-0.70],[2013.305,-0.85],[2013.31,-1.00],[2013.315,-0.80],[2013.32,-0.90],[2013.325,-0.70],[2013.33,-0.85],[2013.335,-0.75],[2013.34,-0.95],[2013.345,-0.70],[2013.35,-0.85],[2013.355,-0.65],[2013.36,-0.80],[2013.365,-0.90],[2013.37,-0.75],[2013.375,-0.85],[2013.38,-1.00],[2013.385,-0.80],[2013.39,-1.05],[2013.395,-1.20],[2013.40,-1.10],[2013.405,-1.30],[2013.41,-1.40],[2013.415,-1.25],[2013.42,-1.50],[2013.425,-1.35],[2013.43,-1.55],[2013.435,-1.45],[2013.44,-1.65],[2013.445,-1.55],[2013.45,-1.75],[2013.455,-1.65],[2013.46,-1.85],[2013.465,-1.90],
  [2014.26,-2.00],[2014.27,-1.90],[2014.28,-2.05],[2014.30,-1.95],[2014.31,-1.85],[2014.315,-1.95],[2014.32,-1.80],[2014.325,-1.70],[2014.33,-1.85],[2014.335,-1.65],[2014.34,-1.75],[2014.345,-1.55],[2014.35,-1.70],[2014.355,-1.50],[2014.36,-1.60],[2014.365,-1.45],[2014.37,-1.55],[2014.375,-1.40],[2014.38,-1.50],[2014.385,-1.35],[2014.39,-1.45],[2014.395,-1.30],[2014.40,-1.40],[2014.405,-1.25],[2014.41,-1.35],[2014.415,-1.20],[2014.42,-1.30],[2014.425,-1.15],[2014.43,-1.25],[2014.435,-1.10],[2014.44,-1.20],[2014.445,-1.05],[2014.45,-1.15],[2014.46,-0.85],[2014.51,-0.65],[2014.515,-0.80],[2014.52,-0.70],[2014.525,-0.90],[2014.53,-0.75],[2014.535,-0.95],[2014.54,-0.80],[2014.545,-0.65],[2014.55,-0.85],[2014.555,-0.70],[2014.56,-0.90],[2014.565,-0.75],[2014.57,-0.85],[2014.575,-0.65]
];
const mcroX = [
  [2011.00,0.20],[2011.005,0.40],[2011.01,0.10],[2011.015,0.30],[2011.02,-0.05],[2011.025,0.25],[2011.03,0.45],[2011.035,0.15],[2011.04,0.35],[2011.045,0.05],[2011.05,0.25],[2011.055,0.40],[2011.06,0.55],[2011.065,0.30],[2011.07,0.65],[2011.075,0.45],[2011.08,0.70],[2011.085,0.35],[2011.09,0.50],[2011.095,0.20],[2011.10,-0.47],[2011.105,0.15],[2011.11,0.25],[2011.115,0.05],[2011.12,0.15],[2011.125,0.20],[2011.13,0.00],[2011.135,0.10],[2011.14,0.20],[2011.145,0.05],[2011.15,0.15],[2011.155,0.10],[2011.16,0.20],[2011.165,0.00],[2011.17,0.15],[2011.175,0.10],[2011.18,0.20],[2011.19,0.05],[2011.20,0.15],[2011.21,0.45],[2011.215,0.55],[2011.22,0.50],[2011.23,0.60],[2011.24,0.95],[2011.245,1.10],[2011.25,0.90],[2011.26,1.00],[2011.27,0.95],[2011.28,1.20],[2011.285,1.50],[2011.29,1.60],[2011.295,1.40],[2011.30,1.65],[2011.31,1.50],[2011.32,1.75],[2011.325,2.00],[2011.33,1.30],[2011.332,-0.45],[2011.335,1.10],[2011.34,1.40],[2011.345,0.90],[2011.35,1.25],[2011.36,1.55],[2011.365,1.05],[2011.37,1.35],[2011.38,1.70],[2011.385,1.20],[2011.39,1.45],[2011.40,1.60],[2011.405,1.30],[2011.41,1.75],[2011.42,1.15],[2011.425,1.40],[2011.43,1.00],[2011.435,1.25],[2011.44,0.80],
  [2011.445,0.45],[2011.45,0.30],[2011.455,0.15],[2011.46,0.25],[2011.465,0.05],[2011.47,0.20],[2011.475,0.00],[2011.48,0.15],[2011.485,0.30],[2011.49,0.10],[2011.50,-0.05],[2011.505,0.20],[2011.51,0.05],[2011.52,0.25],[2011.525,-0.10],[2011.53,0.10],[2011.54,0.00],[2011.545,0.20],[2011.55,-0.05],[2011.56,0.15],[2011.565,0.35],[2011.57,0.10],[2011.575,0.70],[2011.58,0.20],[2011.585,-0.05],[2011.59,0.30],[2011.60,0.10],[2011.605,-0.10],[2011.61,0.15],[2011.62,0.00],[2011.625,0.25],[2011.63,-0.10],[2011.635,0.05],[2011.64,-0.20],[2011.645,0.10],[2011.65,0.60],[2011.655,0.70],[2011.66,0.55],[2011.665,0.75],[2011.67,0.60],[2011.675,-0.20],[2011.68,-0.05],[2011.685,-0.30],[2011.69,-0.15],[2011.70,-0.40],[2011.705,-0.25],[2011.71,-0.55],[2011.715,-0.45],
  [2012.05,-0.35],[2012.055,-0.10],[2012.06,0.05],[2012.065,0.20],[2012.07,0.35],[2012.075,0.50],[2012.08,0.40],[2012.085,0.65],[2012.09,0.55],[2012.095,0.80],[2012.10,0.70],[2012.105,0.90],[2012.11,0.60],[2012.115,0.75],[2012.12,0.95],[2012.125,0.50],[2012.13,0.70],[2012.135,0.45],[2012.14,0.35],[2012.145,0.55],[2012.15,0.25],[2012.155,0.40],[2012.16,0.15],[2012.165,0.30],[2012.17,0.05],[2012.175,0.20],[2012.18,-0.15],[2012.19,-0.55],[2012.20,-0.65],[2012.205,-0.60],[2012.21,-0.70],[2012.40,-0.70],
  [2012.71,-0.55],[2012.715,-0.30],[2012.72,0.05],[2012.725,-0.15],[2012.73,0.10],[2012.735,-0.10],[2012.74,0.25],[2012.745,0.00],[2012.75,0.15],[2012.755,-0.20],[2012.76,0.05],[2012.765,0.30],[2012.77,0.10],[2012.775,-0.05],[2012.78,0.20],[2012.785,0.35],[2012.79,0.05],[2012.795,-0.25],[2012.80,0.15],[2012.805,-0.10],[2012.81,0.10],[2012.815,-0.35],[2012.82,-0.15],[2012.825,0.05],[2012.83,-0.50],[2012.835,-0.20],[2012.84,0.00],[2012.845,-0.30],[2012.85,-0.10],[2012.86,0.25],[2012.865,0.45],[2012.87,0.30],[2012.875,0.55],[2012.88,0.40],[2012.885,0.60],[2012.89,0.45],[2012.90,0.65],[2012.905,0.50],[2012.91,0.70],[2012.92,0.85],[2012.925,0.70],[2012.93,0.95],[2012.935,0.80],[2012.94,1.10],[2012.945,0.90],[2012.95,1.20],[2012.955,1.00],[2012.96,1.30],[2012.965,1.10],[2012.97,1.40],[2012.975,1.20],[2012.98,1.55],[2012.985,1.30],[2012.99,1.15],
  [2013.00,1.35],[2013.005,1.00],[2013.01,1.20],[2013.015,0.90],[2013.02,1.05],[2013.025,0.75],[2013.03,0.90],[2013.035,0.60],[2013.04,0.70],[2013.045,0.45],[2013.05,0.55],[2013.055,0.30],[2013.06,0.15],[2013.065,0.05],[2013.07,-0.40],[2013.075,-0.55],[2013.20,-0.55],[2013.21,-0.45],[2013.22,-0.60],[2013.23,-0.50],[2013.24,-0.40],[2013.25,-0.55],
  [2014.46,-0.30],[2014.465,-0.55],[2014.47,-0.20],[2014.475,-0.45],[2014.48,-0.10],[2014.485,-0.35],[2014.49,-0.05],[2014.495,-0.25],[2014.50,-0.40],[2014.505,-0.15],[2014.51,-0.30],[2014.52,-0.45],[2014.53,-0.35],[2014.54,-0.50],[2014.55,-0.40],[2014.56,-0.55],[2014.57,-0.45],[2014.58,-0.35],[2014.585,-0.50],[2014.59,-0.25],[2014.595,-0.40],[2014.60,-0.20],[2014.605,-0.55],[2014.61,-0.30],[2014.615,-0.45],[2014.62,-0.15],[2014.625,-0.35],[2014.63,-0.25],[2014.635,-0.50],[2014.64,-0.10],[2014.645,-0.30],[2014.65,-0.20],[2014.655,-0.40],[2014.66,-0.05],[2014.665,-0.25],[2014.67,-0.15],[2014.675,-0.35],[2014.68,-0.20]
];

// marker looks (matlab style)
const RED = "#ff0000", BLUE = "#0000ff", GREEN = "#00ff00", MAGENTA = "#ff00ff";
function plus(data)   { return { data, pointStyle: "cross",    pointRadius: 4.5, borderColor: RED,     backgroundColor: RED }; }
function circle(data) { return { data, pointStyle: "circle",   pointRadius: 4.5, borderColor: BLUE,    backgroundColor: "rgba(0,0,0,0)" }; }
function star(data)   { return { data, pointStyle: "star",     pointRadius: 4.2, borderColor: GREEN,   backgroundColor: GREEN }; }
function xmark(data)  { return { data, pointStyle: "crossRot", pointRadius: 5.5, borderColor: MAGENTA, backgroundColor: MAGENTA }; }

// small inward tick marks on the left and bottom axis
const inwardTicks = {
  id: "inwardTicks",
  afterDraw(chart) {
    const ctx = chart.ctx, a = chart.chartArea, xs = chart.scales.x, ys = chart.scales.y;
    ctx.save();
    ctx.strokeStyle = "#555";
    ctx.lineWidth = 1;
    ctx.beginPath();
    xs.ticks.forEach(t => {
      const px = Math.round(xs.getPixelForValue(t.value)) + 0.5;
      ctx.moveTo(px, a.bottom); ctx.lineTo(px, a.bottom - 4);
    });
    ys.ticks.forEach(t => {
      const py = Math.round(ys.getPixelForValue(t.value)) + 0.5;
      ctx.moveTo(a.left, py); ctx.lineTo(a.left + 4, py);
    });
    ctx.stroke();
    ctx.restore();
  }
};

function makePanel(id, title, yMin, yMax, datasets) {
  const tickFont = { family: "'Liberation Sans', Arial, sans-serif", size: 12 };
  return new Chart(document.getElementById(id), {
    type: "scatter",
    data: { datasets: datasets.map(d => Object.assign({ pointBorderWidth: 1.3, borderWidth: 1.3, pointHoverRadius: 0 }, d)) },
    options: {
      responsive: false,
      animation: false,
      devicePixelRatio: 1,
      events: [],
      layout: { padding: { left: 0, right: 26, top: 0, bottom: 0 } },
      plugins: {
        legend: { display: false },
        tooltip: { enabled: false },
        title: {
          display: true, text: title, color: "#000",
          font: { family: "'Liberation Sans', Arial, sans-serif", size: 13, weight: "normal" },
          padding: { top: 5, bottom: 7 }
        }
      },
      scales: {
        x: {
          type: "linear", min: yearTicks[0], max: yearTicks[yearTicks.length - 1],
          afterBuildTicks: s => { s.ticks = yearTicks.map(v => ({ value: v })); },
          afterFit: s => { s.height = 29; },
          ticks: { color: "#222", font: tickFont, padding: 5, maxRotation: 0, callback: v => String(v) },
          grid: { color: "#aaa", drawTicks: false },
          border: { display: true, color: "#555", width: 1, dash: [1, 3] }
        },
        y: {
          min: yMin, max: yMax,
          afterFit: s => { s.width = 27; },
          ticks: { stepSize: 1, color: "#222", font: tickFont, padding: 6,
                   callback: v => (v < 0 ? "\u2212" + Math.abs(v) : String(v)) },
          grid: { color: "#aaa", drawTicks: false },
          border: { display: true, color: "#555", width: 1, dash: [1, 3] }
        }
      }
    },
    plugins: [inwardTicks]
  });
}

makePanel("qai",  "QAI",  -3, 3, [plus(qaiPlus), circle(qaiCircle)]);
makePanel("mna",  "MNA",  -5, 3, [plus(mnaPlus), circle(mnaCircle), star(mnaStar)]);
makePanel("cpi",  "CPI",  -3, 2, [plus(cpiPlus), circle(cpiCircle), star(cpiStar)]);
makePanel("mcro", "MCRO", -6, 2, [plus(mcroPlus), circle(mcroCircle), star(mcroStar), xmark(mcroX)]);
</script>
</body>
</html>
